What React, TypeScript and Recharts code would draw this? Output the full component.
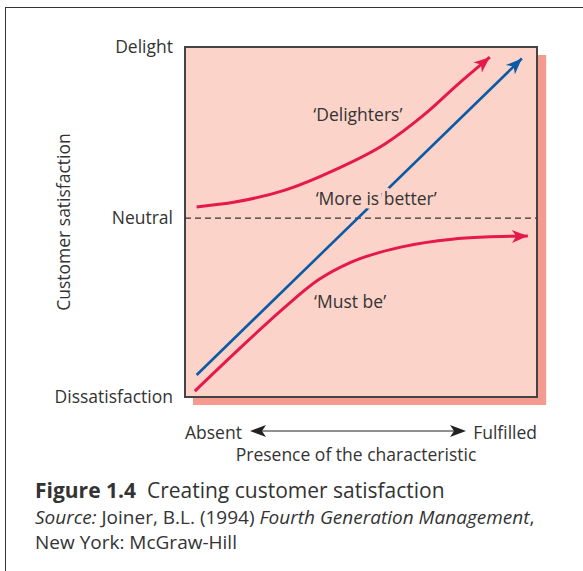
import React from "react";
import {
  LineChart,
  Line,
  XAxis,
  YAxis,
  ReferenceArea,
  ReferenceLine,
  ReferenceDot,
  Label,
} from "recharts";

// curve values (x: presence 0-100, y: satisfaction 0-100)
const delightersX = [3.3, 14.2, 28.4, 42.6, 56.8, 68.2, 77.6, 86.6];
const delightersY = [54.3, 55.7, 59.1, 64.9, 72.3, 80.9, 89.4, 97.1];
const moreBetterX = [3.3, 95.7];
const moreBetterY = [6.3, 96.7];
const mustBeX = [2.8, 14.2, 28.4, 37.8, 47.4, 61.6, 75.9, 85.2, 97.4];
const mustBeY = [1.7, 12.6, 25.7, 33.4, 38.6, 42.9, 45.1, 45.7, 46.0];

const yTicks = [0, 51.1, 100];
const yTickLabels = ["Dissatisfaction", "Neutral", "Delight"];
const xTicks = [0, 100];
const xTickLabels = ["Absent", "Fulfilled"];

const curveNames = ["‘Delighters’", "‘More is better’", "‘Must be’"];
const curveNameX = [49.1, 54.3, 46.9];
const curveNameY = [80.6, 56.6, 27.1];

const RED = "#e5194a";
const BLUE = "#0b5aa6";
const PINK = "#fbd3c9";
const TEXT = "#333";
const FONT = "'Open Sans', sans-serif";

const PLOT_W = 352;
const PLOT_H = 350;

const zip = (xs: number[], ys: number[]) => xs.map((x, i) => ({ x, y: ys[i] }));

const delighters = zip(delightersX, delightersY);
const moreBetter = zip(moreBetterX, moreBetterY);
const mustBe = zip(mustBeX, mustBeY);

function arrowDot(data: { x: number; y: number }[], color: string) {
  return (props: any) => {
    const { cx, cy, index } = props;
    if (index !== data.length - 1) return <g key={index} />;
    const a = data[index - 1];
    const b = data[index];
    const ang =
      (Math.atan2(-(b.y - a.y) * (PLOT_H / 100), (b.x - a.x) * (PLOT_W / 100)) * 180) /
      Math.PI;
    return (
      <polygon
        key={index}
        points="0,0 -16,-6.5 -11.5,0 -16,6.5"
        fill={color}
        transform={`translate(${cx},${cy}) rotate(${ang})`}
      />
    );
  };
}

function nameLabel(text: string) {
  return (p: any) => {
    const { x, y, width, height } = p.viewBox;
    return (
      <text
        x={x + width / 2}
        y={y + height / 2}
        dy="0.35em"
        textAnchor="middle"
        fill={TEXT}
        fontSize={17.5}
        fontFamily={FONT}
        stroke={PINK}
        strokeWidth={7}
        strokeLinejoin="round"
        paintOrder="stroke"
      >
        {text}
      </text>
    );
  };
}

function XTick(props: any) {
  const { x, y, payload } = props;
  const first = payload.value === 0;
  return (
    <text
      x={x}
      y={y + 40}
      textAnchor={first ? "start" : "end"}
      fill={TEXT}
      fontSize={17.5}
      fontFamily={FONT}
    >
      {xTickLabels[xTicks.indexOf(payload.value)]}
    </text>
  );
}

function App() {
  return (
    <div
      style={{
        position: "absolute",
        left: 0,
        top: 0,
        width: 583,
        height: 571,
        overflow: "hidden",
        background: "#fff",
        fontFamily: FONT,
        color: TEXT,
      }}
    >
      <div
        style={{
          position: "absolute",
          left: 5,
          top: 7,
          width: 700,
          height: 700,
          borderLeft: "1px solid #333",
          borderTop: "1px solid #333",
        }}
      />
      <div style={{ position: "absolute", left: 0, top: 0 }}>
        <LineChart
          width={583}
          height={571}
          margin={{ top: 47, right: 46, bottom: 94, left: 0 }}
        >
          <XAxis
            type="number"
            dataKey="x"
            domain={[0, 100]}
            ticks={xTicks}
            height={80}
            axisLine={false}
            tickLine={false}
            tickSize={0}
            tick={<XTick />}
          >
            <Label
              content={(p: any) => (
                <text
                  x={356}
                  y={p.viewBox.y + 64}
                  textAnchor="middle"
                  fill={TEXT}
                  fontSize={17.5}
                  fontFamily={FONT}
                >
                  Presence of the characteristic
                </text>
              )}
            />
          </XAxis>
          <YAxis
            type="number"
            dataKey="y"
            domain={[0, 100]}
            ticks={yTicks}
            width={185}
            axisLine={false}
            tickLine={false}
            tickMargin={6}
            tickFormatter={(v: number) => yTickLabels[yTicks.indexOf(v)]}
            tick={{ fill: TEXT, fontSize: 17.5, fontFamily: FONT }}
          >
            <Label
              content={(p: any) => {
                const cy = p.viewBox.y + p.viewBox.height / 2;
                return (
                  <text
                    x={70}
                    y={cy}
                    textAnchor="middle"
                    fill={TEXT}
                    fontSize={17.5}
                    fontFamily={FONT}
                    transform={`rotate(-90 70 ${cy})`}
                  >
                    Customer satisfaction
                  </text>
                );
              }}
            />
          </YAxis>
          <ReferenceArea
            x1={2.27}
            x2={102.6}
            y1={-2.29}
            y2={97.7}
            ifOverflow="visible"
            fill="#f59a8f"
            fillOpacity={1}
            stroke="none"
          />
          <ReferenceArea
            x1={0}
            x2={100}
            y1={0}
            y2={100}
            fill={PINK}
            fillOpacity={1}
            stroke="#444"
            strokeWidth={2}
          />
          <ReferenceLine y={51.1} stroke="#333" strokeWidth={1.2} strokeDasharray="6 4" />
          <Line
            data={moreBetter}
            dataKey="y"
            type="linear"
            stroke={BLUE}
            strokeWidth={2.6}
            dot={arrowDot(moreBetter, BLUE)}
            activeDot={false}
            isAnimationActive={false}
          />
          <Line
            data={delighters}
            dataKey="y"
            type="monotone"
            stroke={RED}
            strokeWidth={3}
            dot={arrowDot(delighters, RED)}
            activeDot={false}
            isAnimationActive={false}
          />
          <Line
            data={mustBe}
            dataKey="y"
            type="monotone"
            stroke={RED}
            strokeWidth={3}
            dot={arrowDot(mustBe, RED)}
            activeDot={false}
            isAnimationActive={false}
          />
          {curveNames.map((n, i) => (
            <ReferenceDot
              key={n}
              x={curveNameX[i]}
              y={curveNameY[i]}
              r={0}
              stroke="none"
              zIndex={2000}
              label={nameLabel(n)}
            />
          ))}
        </LineChart>
      </div>
      <svg
        width={583}
        height={571}
        style={{ position: "absolute", left: 0, top: 0, pointerEvents: "none" }}
      >
        <line x1={256} y1={431} x2={460} y2={431} stroke="#222" strokeWidth={1.2} />
        <polygon points="250,431 266,425 262,431 266,437" fill="#222" />
        <polygon points="466,431 450,425 454,431 450,437" fill="#222" />
      </svg>
      <div
        style={{
          position: "absolute",
          left: 35,
          top: 476,
          fontSize: 21,
          lineHeight: "28px",
          whiteSpace: "nowrap",
        }}
      >
        <b>Figure 1.4</b>&nbsp; Creating customer satisfaction
      </div>
      <div
        style={{
          position: "absolute",
          left: 35,
          top: 505,
          fontSize: 19,
          lineHeight: "25px",
          whiteSpace: "nowrap",
        }}
      >
        <i>Source:</i> Joiner, B.L. (1994) <i>Fourth Generation Management</i>,
        <br />
        New York: McGraw-Hill
      </div>
    </div>
  );
}

export default App;
